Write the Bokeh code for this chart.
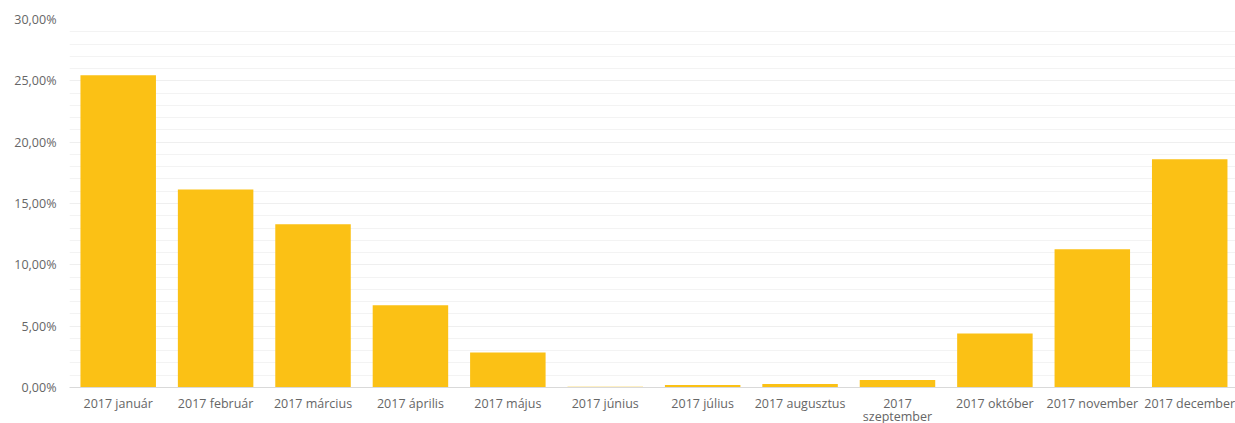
from bokeh.plotting import figure
from bokeh.models import Range1d, FixedTicker, SingleIntervalTicker, ColumnDataSource
from bokeh.embed import file_html
from bokeh.resources import INLINE

months = ["2017 január", "2017 február", "2017 március", "2017 április", "2017 május",
          "2017 június", "2017 július", "2017 augusztus", "2017\nszeptember",
          "2017 október", "2017 november", "2017 december"]
values = [25.45, 16.15, 13.3, 6.7, 2.85, 0.07, 0.2, 0.28, 0.62, 4.4, 11.28, 18.6]
y_ticks = [0, 5, 10, 15, 20, 25, 30]
y_labels = ["0,00%", "5,00%", "10,00%", "15,00%", "20,00%", "25,00%", "30,00%"]

idx = list(range(len(months)))
src = ColumnDataSource(dict(x=idx, top=values))

p = figure(width=1235, height=428, output_backend="svg", toolbar_location=None,
           x_range=Range1d(-0.5, 11.47), y_range=Range1d(0, 30),
           min_border_left=69, min_border_right=0, min_border_top=19, min_border_bottom=0)
p.outline_line_color = None
p.background_fill_color = "white"
p.border_fill_color = "white"

p.vbar(x="x", top="top", width=0.775, source=src, color="#FBC115", line_color=None)

FONT = "Open Sans"
GRAY = "#666666"

p.xaxis.ticker = FixedTicker(ticks=idx)
p.xaxis.major_label_overrides = {i: m for i, m in zip(idx, months)}
p.xaxis.axis_line_color = "#D9D9D9"
p.xaxis.major_tick_line_color = None
p.xaxis.major_tick_out = 0
p.xaxis.major_tick_in = 0
p.xaxis.minor_tick_line_color = None
p.xaxis.minor_tick_out = 0
p.xaxis.major_label_standoff = 7
p.xaxis.major_label_text_font = FONT
p.xaxis.major_label_text_font_size = "12.5px"
p.xaxis.major_label_text_line_height = 0.8
p.xaxis.major_label_text_color = GRAY

p.yaxis.ticker = SingleIntervalTicker(interval=5, num_minor_ticks=5)
p.yaxis.major_label_overrides = {t: l for t, l in zip(y_ticks, y_labels)}
p.yaxis.axis_line_color = None
p.yaxis.major_tick_line_color = None
p.yaxis.major_tick_out = 0
p.yaxis.minor_tick_line_color = None
p.yaxis.minor_tick_out = 0
p.yaxis.major_label_standoff = 13
p.yaxis.major_label_text_font = FONT
p.yaxis.major_label_text_font_size = "12.5px"
p.yaxis.major_label_text_color = GRAY

p.xgrid.grid_line_color = None
p.ygrid.grid_line_color = "#EFEFEF"
p.ygrid.minor_grid_line_color = "#F3F3F3"

open("out.html", "w").write(file_html(p, INLINE))
